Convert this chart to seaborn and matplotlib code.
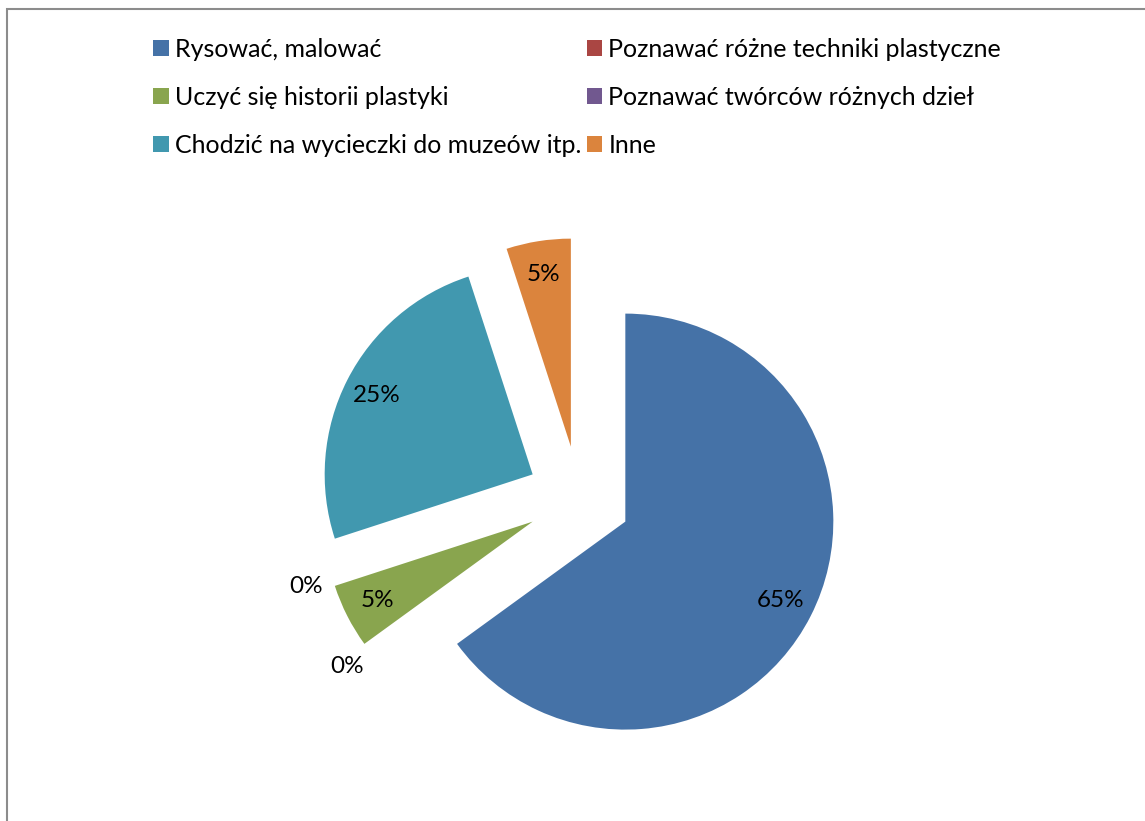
import matplotlib
matplotlib.use("Agg")
import matplotlib.pyplot as plt
import seaborn as sns
from matplotlib.patches import Patch, Rectangle

# answers to the survey question (percent of pupils)
categories = [
    "Rysować, malować",
    "Poznawać różne techniki plastyczne",
    "Uczyć się historii plastyki",
    "Poznawać twórców różnych dzieł",
    "Chodzić na wycieczki do muzeów itp.",
    "Inne",
]
shares = [65, 0, 5, 0, 25, 5]
colors = ["#4572A7", "#AA4643", "#89A54E", "#71588F", "#4198AF", "#DB843D"]

sns.set_theme(style="white")
plt.rcParams['font.family'] = ['Lato', 'DejaVu Sans']
plt.rcParams['text.color'] = 'black'

W, H = 1145, 821
fig = plt.figure(figsize=(W / 100, H / 100), dpi=100)
fig.patch.set_facecolor("white")

# square axes so one data unit = 208 px
ax = fig.add_axes([267 / W, 11 / H, 624 / W, 624 / H])
zero_labels = ["0%" if v == 0 else "" for v in shares]
wedges, labels, pcts = ax.pie(
    shares,
    colors=colors,
    startangle=90,
    counterclock=False,
    explode=[0.25] * len(shares),
    labels=zero_labels,
    labeldistance=1.13,
    autopct=lambda p: f"{p:.0f}%" if p > 0 else "",
    pctdistance=0.84,
    textprops=dict(fontsize=17.5, color="black"),
    wedgeprops=dict(linewidth=0),
)
for t in labels:
    t.set_ha("center")
    t.set_va("center")
ax.set_xlim(-1.5, 1.5)
ax.set_ylim(-1.5, 1.5)
ax.set_aspect("equal")
ax.axis("off")

# legend filled row by row like in Excel
handles = [Patch(facecolor=c, edgecolor="none") for c in colors]
order = [0, 2, 4, 1, 3, 5]
fig.legend(
    [handles[i] for i in order],
    [categories[i] for i in order],
    loc="upper left",
    bbox_to_anchor=(153 / W, 1 - 38 / H),
    ncol=2,
    frameon=False,
    fontsize=18,
    labelcolor="black",
    handlelength=0.62,
    handleheight=0.62,
    handletextpad=0.25,
    labelspacing=1.0,
    columnspacing=0.22,
    borderpad=0,
    borderaxespad=0,
)

# chart area border (only top and left edges are inside the picture)
fig.patches.append(Rectangle((6.5 / W, -0.1), 1.2, 1.1 - 9.5 / H,
                             transform=fig.transFigure, fill=False,
                             edgecolor="#8c8c8c", linewidth=1.5))

fig.savefig("out.png", dpi=100)
